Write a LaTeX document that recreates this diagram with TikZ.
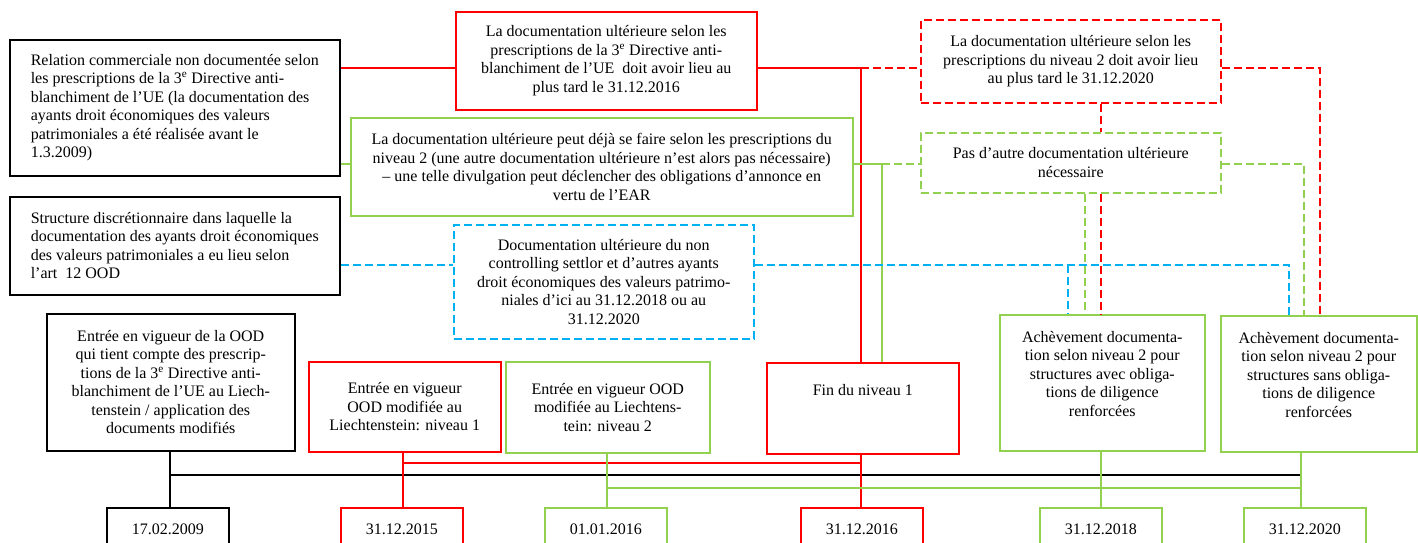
\documentclass[tikz,border=0pt]{standalone}
\usepackage{fontspec}
\setmainfont{Liberation Serif}
\definecolor{myred}{RGB}{255,0,0}
\definecolor{mygreen}{RGB}{146,208,80}
\definecolor{myblue}{RGB}{0,176,240}
\begin{document}
\begin{tikzpicture}[x=1pt,y=-1pt,
  box/.style={draw, line width=1.5pt, fill=white, inner sep=2pt, anchor=north west,
    font=\fontsize{16}{18.5}\selectfont},
  blackbox/.style={box, draw=black},
  redbox/.style={box, draw=myred},
  greenbox/.style={box, draw=mygreen},
  reddash/.style={box, draw=myred, dash pattern=on 8pt off 4pt},
  greendash/.style={box, draw=mygreen, dash pattern=on 8pt off 4pt},
  bluedash/.style={box, draw=myblue, dash pattern=on 8pt off 4pt},
  datebox/.style={box, minimum width=122pt, minimum height=44pt, align=center},
  conn/.style={line width=1.5pt},
  redline/.style={conn, draw=myred},
  greenline/.style={conn, draw=mygreen},
  blackline/.style={conn, draw=black},
  reddashed/.style={conn, draw=myred, dash pattern=on 8pt off 4pt},
  greendashed/.style={conn, draw=mygreen, dash pattern=on 8pt off 4pt},
  bluedashed/.style={conn, draw=myblue, dash pattern=on 8pt off 4pt}
]
\useasboundingbox[fill=white] (0,0) rectangle (1418,542);

% ---- boxes
\node[blackbox, align=left, minimum width=330pt, minimum height=136pt] (A) at (9,39)
 {Relation commerciale non documentée selon\\les prescriptions de la 3\textsuperscript{e} Directive anti-\\blanchiment de l’UE (la documentation des\\ayants droit économiques des valeurs\\patrimoniales a été réalisée avant le\\1.3.2009)};
\node[blackbox, align=left, minimum width=330pt, minimum height=98pt] (C) at (9,196)
 {Structure discrétionnaire dans laquelle la\\documentation des ayants droit économiques\\des valeurs patrimoniales a eu lieu selon\\l’art~ 12 OOD};
\node[redbox, align=center, minimum width=301pt, minimum height=98pt] (B) at (455,11)
 {La documentation ultérieure selon les\\prescriptions de la 3\textsuperscript{e} Directive anti-\\blanchiment de l’UE~ doit avoir lieu au\\plus tard le 31.12.2016};
\node[greenbox, align=center, minimum width=502pt, minimum height=98pt] (L) at (350,117)
 {La documentation ultérieure peut déjà se faire selon les prescriptions du\\niveau 2 (une autre documentation ultérieure n’est alors pas nécessaire)\\– une telle divulgation peut déclencher des obligations d’annonce en\\vertu de l’EAR};
\node[reddash, align=center, minimum width=300pt, minimum height=83pt] (M) at (920,19)
 {La documentation ultérieure selon les\\prescriptions du niveau 2 doit avoir lieu\\au plus tard le 31.12.2020};
\node[greendash, align=center, minimum width=300pt, minimum height=60pt] (K) at (920,132)
 {Pas d’autre documentation ultérieure\\nécessaire};
\node[bluedash, align=center, minimum width=300pt, minimum height=114pt] (D) at (453,224)
 {Documentation ultérieure du non\\controlling settlor et d’autres ayants\\droit économiques des valeurs patrimo-\\niales d’ici au 31.12.2018 ou au\\31.12.2020};
\node[blackbox, align=center, minimum width=248pt, minimum height=137pt] (E) at (46,313)
 {Entrée en vigueur de la OOD\\qui tient compte des prescrip-\\tions de la 3\textsuperscript{e} Directive anti-\\blanchiment de l’UE au Liech-\\tenstein / application des\\documents modifiés};
\node[redbox, align=center, minimum width=192pt, minimum height=90pt] (F) at (308,361)
 {Entrée en vigueur\\OOD modifiée au\\Liechtenstein: niveau 1};
\node[greenbox, align=center, minimum width=204pt, minimum height=91pt] (G) at (505,361)
 {Entrée en vigueur OOD\\modifiée au Liechtens-\\tein: niveau 2};
\node[redbox, align=center, minimum width=192pt, minimum height=91pt] (H) at (766,362)
 {Fin du niveau 1\\~\\~};
\node[greenbox, align=center, minimum width=205pt, minimum height=136pt] (I) at (999,314)
 {Achèvement documenta-\\tion selon niveau 2 pour\\structures avec obliga-\\tions de diligence\\renforcées\\~};
\node[greenbox, align=center, minimum width=196pt, minimum height=136pt] (J) at (1220,315)
 {Achèvement documenta-\\tion selon niveau 2 pour\\structures sans obliga-\\tions de diligence\\renforcées\\~};

% ---- date boxes
\node[datebox, draw=black] (D1) at (106,507) {17.02.2009};
\node[datebox, draw=myred] (D2) at (340,507) {31.12.2015};
\node[datebox, draw=mygreen] (D3) at (544,507) {01.01.2016};
\node[datebox, draw=myred] (D4) at (800,507) {31.12.2016};
\node[datebox, draw=mygreen] (D5) at (1039,507) {31.12.2018};
\node[datebox, draw=mygreen] (D6) at (1243,507) {31.12.2020};

% ---- helper coordinates
\coordinate (yR) at (0,68);
\coordinate (yG) at (0,164);
\coordinate (yB) at (0,265);
\coordinate (jR) at (861,68);
\coordinate (jG) at (882,164);
\coordinate (xRa) at (1101,0);
\coordinate (xGa) at (1085,0);
\coordinate (xBa) at (1068,0);
\coordinate (xRb) at (1320,0);
\coordinate (xGb) at (1304,0);
\coordinate (xBb) at (1289,0);
\coordinate (yRl) at (0,463);
\coordinate (yKl) at (0,475);
\coordinate (yGl) at (0,488);
\coordinate (xE) at (170,0);
\coordinate (xF) at (403,0);
\coordinate (xG) at (607,0);
\coordinate (xH) at (861,0);
\coordinate (xI) at (1101,0);
\coordinate (xJ) at (1301,0);

% ---- upper connectors
\draw[redline] (A.east |- yR) -- (B.west |- yR);
\draw[redline] (B.east |- yR) -- (jR) -- (H.north -| jR);
\draw[reddashed] (jR) -- (M.west |- yR);
\draw[reddashed] (M.east |- yR) -| (J.north -| xRb);
\draw[reddashed] (M.south -| xRa) -- (K.north -| xRa);
\draw[reddashed] (K.south -| xRa) -- (I.north -| xRa);

\draw[greenline] (A.east |- yG) -- (L.west |- yG);
\draw[greenline] (L.east |- yG) -- (jG) -- (H.north -| jG);
\draw[greendashed] (jG) -- (K.west |- yG);
\draw[greendashed] (K.east |- yG) -| (J.north -| xGb);
\draw[greendashed] (K.south -| xGa) -- (I.north -| xGa);

\draw[bluedashed] (C.east |- yB) -- (D.west |- yB);
\draw[bluedashed] (D.east |- yB) -| (J.north -| xBb);
\draw[bluedashed] (xBa |- yB) -- (I.north -| xBa);

% ---- lower connectors
\draw[blackline] (E.south -| xE) -- (D1.north -| xE);
\draw[blackline] (xE |- yKl) -- (xJ |- yKl);
\draw[redline] (F.south -| xF) -- (D2.north -| xF);
\draw[redline] (xF |- yRl) -- (xH |- yRl);
\draw[redline] (H.south -| xH) -- (D4.north -| xH);
\draw[greenline] (G.south -| xG) -- (D3.north -| xG);
\draw[greenline] (xG |- yGl) -- (xJ |- yGl);
\draw[greenline] (I.south -| xI) -- (D5.north -| xI);
\draw[greenline] (J.south -| xJ) -- (D6.north -| xJ);
\end{tikzpicture}
\end{document}
